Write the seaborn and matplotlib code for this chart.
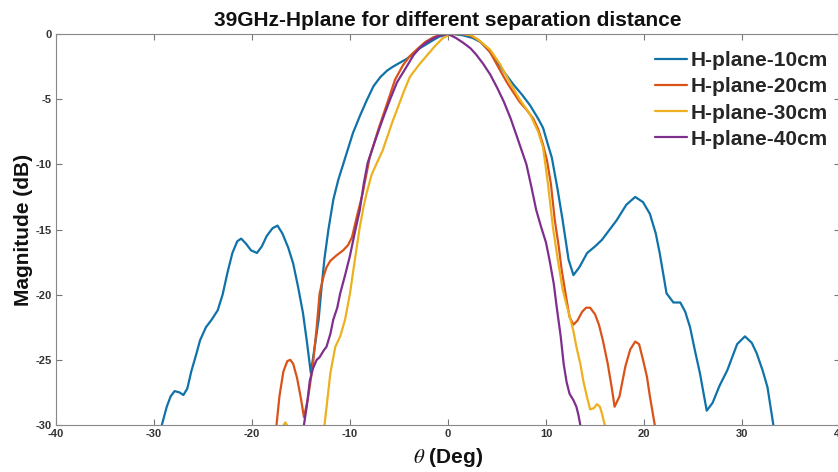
import matplotlib
matplotlib.use("Agg")
import matplotlib.pyplot as plt
import seaborn as sns
import pandas as pd

# H-plane-10cm
theta_10 = [-29.2, -28.7, -28.3, -27.9, -27.4, -27.0, -26.6, -26.2, -25.7, -25.3, -24.7, -24.1,
            -23.5, -23.0, -22.5, -22.0, -21.5, -21.1, -20.6, -20.1, -19.5, -19.0, -18.5, -17.9,
            -17.4, -16.9, -16.3, -15.8, -15.3, -14.8, -14.4, -14.0, -13.6, -13.2, -12.9, -12.6,
            -12.2, -11.7, -11.2, -10.7, -10.2, -9.7, -9.0, -8.3, -7.6, -6.9, -6.2, -5.6, -4.9,
            -4.2, -3.5, -2.9, -1.8, -0.9, 0.0, 0.5, 1.5, 2.5, 3.3, 4.2, 5.0, 5.8, 6.7, 7.6, 8.4,
            9.2, 9.7, 10.2, 10.6, 11.2, 11.7, 12.3, 12.8, 13.4, 14.2, 15.0, 15.7, 16.5, 17.2,
            18.2, 19.1, 19.9, 20.6, 21.2, 21.6, 22.3, 23.0, 23.7, 24.2, 24.7, 25.2, 25.7, 26.4,
            27.0, 27.7, 28.5, 29.5, 30.3, 31.0, 31.5, 32.1, 32.6, 33.2]
mag_10 = [-30.0, -28.6, -27.8, -27.4, -27.5, -27.7, -27.2, -25.9, -24.6, -23.5, -22.5, -21.9,
          -21.2, -20.0, -18.3, -16.8, -15.9, -15.7, -16.1, -16.6, -16.8, -16.3, -15.5, -14.9,
          -14.7, -15.3, -16.4, -17.6, -19.4, -21.4, -23.6, -26.0, -24.0, -21.9, -19.4, -17.2,
          -15.0, -12.7, -11.2, -10.0, -8.8, -7.6, -6.3, -5.1, -4.0, -3.3, -2.8, -2.5, -2.2,
          -1.9, -1.5, -1.1, -0.6, -0.2, -0.05, 0.0, -0.1, -0.3, -0.6, -1.3, -2.1, -3.0, -3.9,
          -4.7, -5.5, -6.5, -7.2, -8.5, -9.5, -12.0, -14.3, -17.3, -18.5, -17.9, -16.8, -16.3,
          -15.8, -15.0, -14.3, -13.1, -12.5, -12.9, -13.8, -15.3, -16.8, -19.9, -20.6, -20.6,
          -21.3, -22.5, -24.3, -26.0, -28.9, -28.3, -27.0, -25.8, -23.8, -23.2, -23.7, -24.5,
          -25.8, -27.1, -30.0]

# H-plane-20cm
theta_20 = [-17.5, -17.2, -16.8, -16.4, -16.1, -15.8, -15.4, -15.0, -14.7, -14.3, -13.8, -13.4,
            -13.1, -12.7, -12.4, -12.0, -11.4, -10.7, -10.2, -9.8, -9.3, -8.7, -8.0, -7.1, -6.2,
            -5.4, -4.6, -3.9, -3.2, -2.3, -1.5, -0.7, 0.0, 0.8, 1.5, 2.2, 3.0, 3.6, 4.3, 5.1,
            6.0, 6.6, 7.3, 8.0, 8.7, 9.2, 9.7, 10.1, 10.5, 10.9, 11.3, 11.6, 12.1, 12.4, 12.8,
            13.2, 13.7, 14.1, 14.5, 15.0, 15.4, 15.8, 16.3, 16.7, 17.0, 17.5, 18.1, 18.6, 19.1,
            19.5, 19.9, 20.3, 20.6, 21.1]
mag_20 = [-30.0, -27.8, -25.9, -25.1, -25.0, -25.3, -26.4, -28.0, -29.4, -28.0, -25.5, -22.5,
          -19.9, -18.6, -17.9, -17.4, -17.0, -16.6, -16.2, -15.6, -14.0, -12.2, -9.5, -7.3,
          -5.3, -3.5, -2.4, -1.7, -1.2, -0.6, -0.25, -0.05, 0.0, 0.0, 0.0, -0.1, -0.4, -0.8,
          -1.4, -2.5, -3.7, -4.4, -5.2, -5.8, -6.5, -7.3, -8.5, -9.7, -11.5, -14.3, -16.3,
          -18.1, -20.4, -21.7, -22.3, -22.0, -21.3, -21.0, -21.0, -21.5, -22.3, -23.5, -25.3,
          -27.1, -28.6, -27.8, -25.5, -24.2, -23.6, -23.8, -25.0, -26.3, -27.8, -30.0]

# H-plane-30cm (small lobe near -17 deg, then main curve)
theta_30_lobe = [-17.1, -16.6, -16.1]
mag_30_lobe = [-30.4, -29.8, -30.4]
theta_30 = [-12.6, -12.3, -12.0, -11.5, -11.0, -10.5, -10.0, -9.5, -9.0, -8.6, -8.3, -7.8, -7.2,
            -6.7, -6.2, -5.7, -5.2, -4.5, -3.9, -3.0, -2.1, -1.3, -0.5, 0.2, 0.9, 1.6, 2.4, 3.2,
            4.3, 5.3, 6.3, 7.3, 8.4, 9.2, 9.7, 10.2, 10.7, 11.2, 11.7, 12.1, 12.4, 12.8, 13.1,
            13.5, 13.8, 14.2, 14.5, 14.9, 15.2, 15.5, 15.7, 16.0]
mag_30 = [-30.0, -28.0, -26.0, -24.0, -23.2, -21.9, -19.9, -17.3, -14.8, -13.2, -12.2, -10.8,
          -9.8, -9.0, -7.9, -6.8, -5.8, -4.4, -3.3, -2.4, -1.6, -0.9, -0.3, -0.05, 0.0, 0.0,
          -0.1, -0.5, -1.2, -2.3, -3.7, -5.0, -6.2, -7.5, -8.7, -11.5, -14.8, -17.3, -19.6,
          -20.8, -21.6, -22.8, -24.0, -25.3, -26.6, -27.9, -28.8, -28.7, -28.4, -28.6, -29.1,
          -30.0]

# H-plane-40cm
theta_40 = [-14.7, -14.4, -14.1, -13.8, -13.4, -13.1, -12.7, -12.4, -12.0, -11.7, -11.3, -11.0,
            -10.5, -10.0, -9.5, -9.0, -8.6, -8.2, -7.4, -6.6, -5.9, -5.2, -4.3, -3.5, -2.8,
            -2.1, -1.4, -0.8, 0.0, 0.8, 1.6, 2.3, 2.9, 3.6, 4.3, 5.0, 5.7, 6.4, 7.0, 7.5, 8.0,
            8.5, 9.0, 9.5, 10.0, 10.4, 10.8, 11.1, 11.5, 11.8, 12.1, 12.4, 12.8, 13.1, 13.3, 13.5]
mag_40 = [-30.0, -28.5, -26.6, -25.7, -25.0, -24.8, -24.3, -24.0, -23.0, -21.9, -21.0, -19.9,
          -18.5, -17.0, -15.2, -13.5, -11.5, -9.9, -8.1, -6.4, -5.0, -3.7, -2.6, -1.6, -1.0,
          -0.6, -0.3, -0.1, 0.0, -0.3, -0.7, -1.1, -1.6, -2.3, -3.1, -4.1, -5.2, -6.5, -7.8,
          -8.9, -10.0, -11.7, -13.5, -14.8, -16.0, -17.5, -19.2, -21.0, -23.2, -25.3, -26.7,
          -27.6, -28.1, -28.6, -29.2, -30.0]

labels = ['H-plane-10cm', 'H-plane-20cm', 'H-plane-30cm', 'H-plane-40cm']
colors = ['#0F72A8', '#D95319', '#EDB120', '#7E2F8E']

sns.set_theme(style="ticks")
plt.rcParams['font.family'] = ['Liberation Sans', 'DejaVu Sans']
plt.rcParams['axes.unicode_minus'] = False
plt.rcParams['mathtext.fontset'] = 'stix'

fig = plt.figure(figsize=(8.38, 4.72), dpi=100)
ax = fig.add_axes([56 / 838, 47 / 472, 784 / 838, 391 / 472])

series = [(theta_10, mag_10), (theta_20, mag_20), (theta_30, mag_30), (theta_40, mag_40)]
for (th, mg), lab, col in zip(series, labels, colors):
    df = pd.DataFrame({'theta': th, 'mag': mg})
    sns.lineplot(data=df, x='theta', y='mag', ax=ax, color=col, linewidth=1.6,
                 label=lab, sort=False, estimator=None)
df_lobe = pd.DataFrame({'theta': theta_30_lobe, 'mag': mag_30_lobe})
sns.lineplot(data=df_lobe, x='theta', y='mag', ax=ax, color=colors[2], linewidth=1.6,
             sort=False, estimator=None, legend=False)

ax.set_xlim(-40, 40)
ax.set_ylim(-30, 0)
ax.set_xticks(range(-40, 41, 10))
ax.set_yticks(range(-30, 1, 5))
ax.tick_params(direction='in', length=4, width=0.8, color='#777777', labelsize=8,
               labelcolor='#333333', top=True, right=True, pad=3)
for t in ax.get_xticklabels() + ax.get_yticklabels():
    t.set_fontweight('bold')
for s in ax.spines.values():
    s.set_color('#888888')
    s.set_linewidth(0.8)

ax.set_title('39GHz-Hplane for different separation distance', fontsize=15,
             fontweight='bold', pad=6, color='#111111')
ax.set_xlabel(r'$\theta$ (Deg)', fontsize=15, fontweight='bold', labelpad=5, color='#111111')
ax.set_ylabel('Magnitude (dB)', fontsize=15, fontweight='bold', labelpad=2, color='#111111')

ax.legend(loc='upper right', bbox_to_anchor=(836 / 838, 1 - 43 / 472),
          bbox_transform=fig.transFigure, frameon=False, handlelength=1.55,
          handletextpad=0.15, labelspacing=0.34, borderaxespad=0,
          prop={'weight': 'bold', 'size': 15})

fig.savefig('out.png', dpi=100)
